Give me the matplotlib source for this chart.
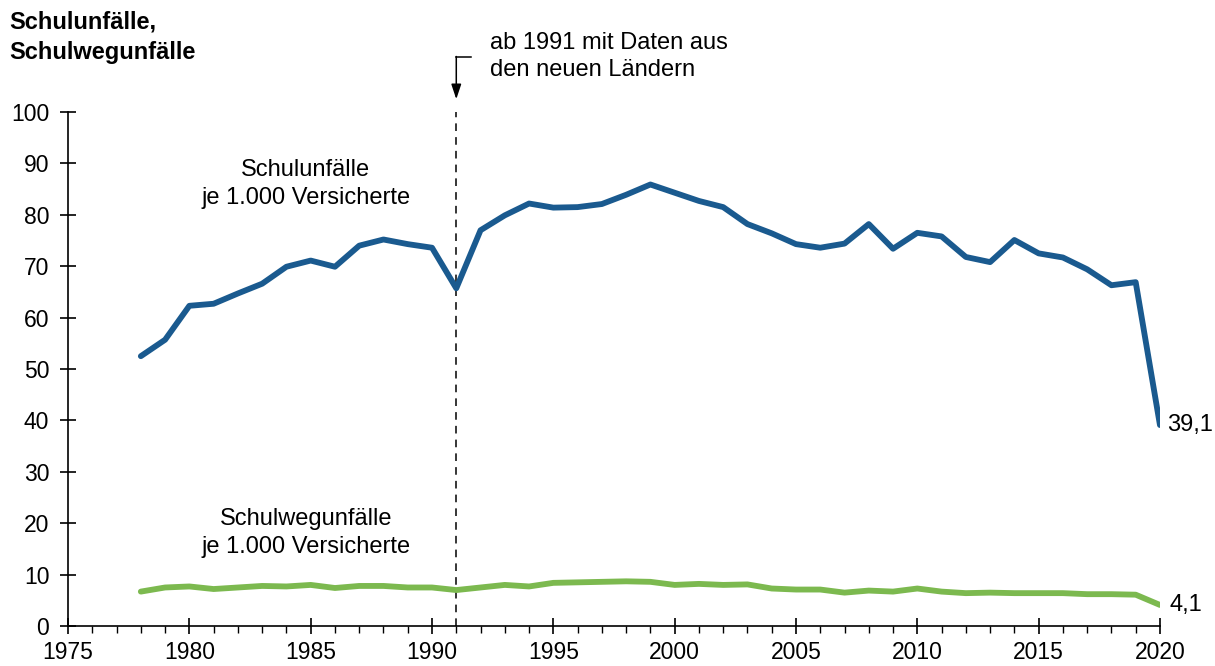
import matplotlib.pyplot as plt
from matplotlib.ticker import MultipleLocator

plt.rcParams['font.family'] = ['Liberation Sans', 'DejaVu Sans']

# Jahre und Werte (je 1.000 Versicherte)
years = list(range(1978, 2021))
schulunfaelle = [52.5, 55.7, 62.3, 62.7, 64.7, 66.6, 69.9, 71.1, 69.9, 74.0,
                 75.2, 74.3, 73.6, 65.7, 77.0, 79.9, 82.2, 81.4, 81.5, 82.1,
                 83.9, 85.9, 84.3, 82.7, 81.5, 78.2, 76.4, 74.3, 73.6, 74.4,
                 78.2, 73.4, 76.5, 75.8, 71.8, 70.8, 75.1, 72.5, 71.7, 69.4,
                 66.3, 66.9, 39.1]
schulwegunfaelle = [6.7, 7.5, 7.7, 7.2, 7.5, 7.8, 7.7, 8.0, 7.4, 7.8,
                    7.8, 7.5, 7.5, 7.0, 7.5, 8.0, 7.7, 8.4, 8.5, 8.6,
                    8.7, 8.6, 8.0, 8.2, 8.0, 8.1, 7.3, 7.1, 7.1, 6.5,
                    6.9, 6.7, 7.3, 6.7, 6.4, 6.5, 6.4, 6.4, 6.4, 6.2,
                    6.2, 6.1, 4.1]

blue = '#1a5a8f'
green = '#7cb94f'
fs = 17

fig = plt.figure(figsize=(12.15, 6.66), dpi=100)
ax = fig.add_axes([0.056, 0.06, 0.8987, 0.7718])

ax.plot(years, schulunfaelle, color=blue, lw=4.2, solid_capstyle='round', zorder=3)
ax.plot(years, schulwegunfaelle, color=green, lw=4.2, solid_capstyle='round', zorder=3)

ax.set_xlim(1975, 2020)
ax.set_ylim(0, 100)
ax.xaxis.set_major_locator(MultipleLocator(5))
ax.xaxis.set_minor_locator(MultipleLocator(1))
ax.yaxis.set_major_locator(MultipleLocator(10))
ax.tick_params(axis='x', which='major', direction='inout', length=11, width=1.2,
               labelsize=16.5, pad=5)
ax.tick_params(axis='x', which='minor', direction='out', length=5, width=1)
ax.tick_params(axis='y', which='major', direction='inout', length=11, width=1.2,
               labelsize=16.5, pad=8)
for s in ['top', 'right']:
    ax.spines[s].set_visible(False)
for s in ['left', 'bottom']:
    ax.spines[s].set_linewidth(1.2)

# Bruch 1991
ax.axvline(1991, ymin=0, ymax=1, color='black', lw=1.1, ls=(0, (5, 4)), zorder=2)
ax.annotate('', xy=(1991, 102.5), xytext=(1991, 110.8), xycoords='data',
            annotation_clip=False,
            arrowprops=dict(arrowstyle='-|>,head_width=0.3,head_length=0.9',
                            color='black', lw=1.1, shrinkA=0, shrinkB=0))
ax.plot([1991, 1991.6], [110.8, 110.8], color='black', lw=1.1, clip_on=False)
ax.text(1992.4, 110.8, 'ab 1991 mit Daten aus\nden neuen Ländern', fontsize=fs,
        ha='left', va='center', linespacing=1.35)

ax.text(1984.8, 86, 'Schulunfälle\nje 1.000 Versicherte', fontsize=fs,
        ha='center', va='center', linespacing=1.3)
ax.text(1984.8, 18.1, 'Schulwegunfälle\nje 1.000 Versicherte', fontsize=fs,
        ha='center', va='center', linespacing=1.3)

ax.annotate('39,1', xy=(2020, 39.1), xytext=(5, 0), textcoords='offset points',
            fontsize=fs, ha='left', va='center')
ax.annotate('4,1', xy=(2020, 4.1), xytext=(7, 0), textcoords='offset points',
            fontsize=fs, ha='left', va='center')

fig.text(0.008, 0.944, 'Schulunfälle,\nSchulwegunfälle', fontsize=fs,
         fontweight='bold', ha='left', va='center', linespacing=1.4)

fig.savefig('out.png', dpi=100)
